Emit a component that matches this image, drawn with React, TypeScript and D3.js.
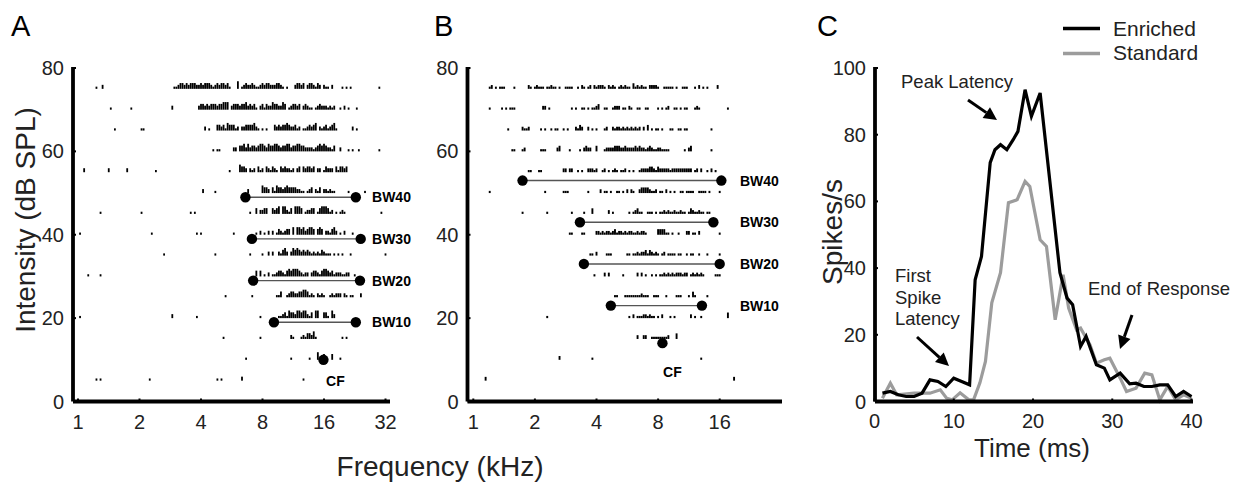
import React from "react";
import * as d3 from "d3";

const FONT = "'Liberation Sans', Arial, Helvetica, sans-serif";
const Z = "0000000000";

// raster rows: intensity (dB SPL), each row = spike counts per 1/30 octave step from 1 kHz (chunks of 10 steps)
const rasterDb = [75, 70, 65, 60, 55, 50, 45, 40, 35, 30, 25, 20, 15, 10, 5];

const spikesA = [
  ["0000000001","0020000000",Z,Z,"0000000112","3323233322","3233321232","3323100040","1232232112","3233222332","1010002332","3023321320","2110200001","0101000000","0000000100"],
  [Z,"0000001000","0000001000",Z,"0000002000","0000000002","3323233323","3444023332","3342323102","3132243322","4301233230","2321101232","2212120010","2010001000"],
  [Z,"0000000010",Z,"0110000000",Z,Z,"0020100033","2314333120","2233334210","1010003232","3343223120","1123234021","2312341000","0000201000"],
  [Z,Z,Z,Z,Z,Z,"0000001011","0000002203","3424233234","4324334432","3344233443","3222212343","4322130020","0010100100","0000000100"],
  ["0002000000","0000020000","0000200000","0000000010",Z,Z,Z,"0000100004","3320212031","2032132103","2322120230","3233230220","1322203133","2300000000"],
  [Z,Z,Z,Z,Z,Z,"0200000100",Z,"0002000000","4332031433","2343333221","1012302130","2212110000","0010000000","1000000000"],
  [Z,"0100000000",Z,"0100000000",Z,"0000010100",Z,Z,"0000100302","2330032340","4421304443","0122330134","4431201012","1000000000","0000000010"],
  ["0100000000",Z,Z,"0000001000",Z,"0000000010","1000000000","0000001000","0000000102","0102020132","1233040443","4234430343","0221342010","2000100000"],
  [Z,Z,Z,Z,"0010000000",Z,"0000000100",Z,"0000100000","1002020021","3420243432","3232121213","2111010101","0001000000",Z,"1"],
  ["0000010000","0100000000",Z,Z,Z,Z,Z,Z,"0000000303","0102011233","2134344432","1220233213","4432312221","1220010000"],
  [Z,Z,Z,Z,Z,Z,Z,"0010000000","0000010000","0000000113","0012332233","4431210212","1001212220","2101100020"],
  ["0100000000",Z,Z,Z,"0000002000","0000000010",Z,Z,"0000000001","0000000011","2314332443","4421304400","3310420000"],
  [Z,Z,Z,Z,Z,Z,Z,"0100000000","0000000001",Z,"0000210001","2133241000","0000000001","0100000000"],
  [Z,Z,Z,Z,Z,Z,Z,Z,"0010000000",Z,"0000100000","0001000400","3000300010"],
  ["0000000001","0100000000",Z,"0000010000",Z,Z,"0000000010","1000000000","2000000000",Z,Z,"1000000000"],
];

const spikesB = [
  ["0000000012","0101110000","1000000210","1211101121","1010011110","0102101202","1222102121","0121211031","2121102222","1001111101","0011100010","2010100002"],
  ["0000000010","0000101011","1000000000","0000220100","0000000010","1001101011","2300110012","2201102100","1100110000","1010120011","0101100012","1000000000","0000100000"],
  [Z,"0000000100","0000211200","0001010010","1100101000","2132002010","1000120021","2212121212","1202030101","1010001100","1101100000","0000001000"],
  [Z,"0000000001","1000120000","0001110000","0230000100","0010232200","3000122223","3322322223","2322123211","2211110000","0001023000","0000001000"],
  [Z,Z,"0000000110","0011000000","0000220220","0101002221","2001201012","1011201010","0122223321","3222221222","2222222012","0200102010"],
  ["0000000010",Z,Z,"0000010000","0000111000","0000001000","0020110100","1101020210","0233332112","0110201010","0110111100","1111010000","1000000000"],
  [Z,Z,"0000100000","0000001000","0000000010","0000100030","0000002010","0000001012","3110011101","0112121121","1211013211","2110110000"],
  [Z,Z,Z,Z,"0000000110","0001100000","2212122123","1221212211","2122100000","3333110100","1000220110","2000000000","1000000000"],
  [Z,Z,Z,Z,Z,"0000000110","2000011100","0000011011","2122313212","1012011110","1100101100","1000100000","1000000000"],
  [Z,Z,Z,Z,Z,"0000000001","0000202000","0001000000","2020100101","0112121212","2212201212","1210000011","1000000000"],
  [Z,Z,Z,Z,Z,Z,"0000000001","1000111111","1121110011","1000100001","1100010310","0000100000"],
  [Z,Z,Z,"0000001000",Z,Z,Z,"0000001020","1112212110","1020001010","0000002010","0100000000","0000300000"],
  [Z,Z,Z,Z,Z,Z,Z,Z,"2002200111","1111120003"],
  [Z,Z,Z,Z,"0020000000","0000000010",Z,Z,Z,Z,Z,"0100000000"],
  ["0000002000",Z,Z,Z,Z,Z,Z,Z,Z,Z,Z,Z,"0000000200"],
];

// bandwidths
const bwLabels = ["BW10", "BW20", "BW30", "BW40"];
const bwA_db = [19, 29, 39, 49];
const bwA_lo = [9.1, 7.2, 7.1, 6.6];
const bwA_hi = [22.9, 24.0, 24.2, 22.9];
const cfA = { f: 15.9, db: 10 };
const bwB_db = [23, 33, 43, 53];
const bwB_lo = [4.7, 3.47, 3.32, 1.74];
const bwB_hi = [13.1, 16.0, 14.9, 16.3];
const cfB = { f: 8.4, db: 14 };

const freqTicksA = [1, 2, 4, 8, 16, 32];
const freqTicksB = [1, 2, 4, 8, 16];
const dbTicks = [0, 20, 40, 60, 80];

// PSTH
const enrichedT = [1,2,3,4,5,6,7,8,9,10,11,12,12.7,13.5,14.6,15.2,15.9,16.7,17.5,18.1,19,19.8,20.9,23.4,24.3,25,26,26.7,28,29,29.7,31,32.2,33,34,35,36,37,38,39,40];
const enrichedV = [2.5,3,2,1.5,1.5,2.5,6.5,6,4.5,7,6,5,36.5,43.5,71.6,75.5,77,75.5,78.5,81,93.5,85.5,92.5,38.6,31,29,16.5,19.5,11,10,6.5,8.5,5.3,5.5,4.5,4.5,5,5,1.5,3,1.5];
const standardT = [1,2,2.8,4.1,5,5.8,7,8.3,9.1,9.8,10.8,11.9,12.5,13.3,14,14.8,15.9,16.9,18,19,19.6,20.9,21.7,22.8,23.8,24.5,25.5,26,27.2,28,29,29.7,31,31.8,33,34.1,35,36,37,38,39,40];
const standardV = [1,5.5,2,2.3,2.5,2.5,2.5,3.5,1,0.5,2.6,0.5,0.5,5.6,12,29.6,38.6,59.6,60.5,66,64.5,48.5,46.5,24.5,38,28,21.5,22,17,11.5,12.5,13,7,3,4,8.5,8,0.5,4.5,0.5,2,1];
const timeTicks = [0, 10, 20, 30, 40];
const rateTicks = [0, 20, 40, 60, 80, 100];

const STEPS_PER_OCT = 30;

function Raster({ rows, x, y, heights, w }: any) {
  const marks: any[] = [];
  rows.forEach((chunks: string[], r: number) => {
    const s = chunks.join("");
    const base = y(rasterDb[r]);
    for (let i = 0; i < s.length; i++) {
      const h = +s[i];
      if (!h) continue;
      const cx = x(Math.pow(2, i / STEPS_PER_OCT));
      marks.push(<rect key={r + "-" + i} x={cx - w / 2} y={base - heights[h]} width={w} height={heights[h]} fill="#000" />);
    }
  });
  return <g>{marks}</g>;
}

function Arrow({ x1, y1, x2, y2 }: any) {
  const a = Math.atan2(y2 - y1, x2 - x1);
  const L = 13, W = 6.5;
  const bx = x2 - L * Math.cos(a), by = y2 - L * Math.sin(a);
  const px = -Math.sin(a), py = Math.cos(a);
  const head = `M${x2},${y2}L${bx + px * W},${by + py * W}L${bx - px * W},${by - py * W}Z`;
  return (
    <g>
      <line x1={x1} y1={y1} x2={bx} y2={by} stroke="#000" strokeWidth={3} />
      <path d={head} fill="#000" />
    </g>
  );
}

function FreqPanel({ letter, lx, axisX, x, y, ticks, axisEnd, spikes, heights, w, bwDb, bwLo, bwHi, cf, labelF, cfDx, cfLabelDb }: any) {
  return (
    <g>
      <text x={lx} y={36} fontSize={29} fontFamily={FONT}>{letter}</text>
      <Raster rows={spikes} x={x} y={y} heights={heights} w={w} />
      {bwDb.map((db: number, k: number) => (
        <g key={k}>
          <line x1={x(bwLo[k])} x2={x(bwHi[k])} y1={y(db)} y2={y(db)} stroke="#555" strokeWidth={1.4} />
          <circle cx={x(bwLo[k])} cy={y(db)} r={5.2} fill="#000" />
          <circle cx={x(bwHi[k])} cy={y(db)} r={5.2} fill="#000" />
          <text x={x(labelF)} y={y(db) + 5} fontSize={14} fontWeight="bold" fontFamily={FONT}>{bwLabels[k]}</text>
        </g>
      ))}
      <circle cx={x(cf.f)} cy={y(cf.db)} r={5.2} fill="#000" />
      <text x={x(cf.f) + cfDx} y={y(cfLabelDb) + 5} textAnchor="middle" fontSize={14} fontWeight="bold" fontFamily={FONT}>CF</text>
      <line x1={axisX} x2={axisX} y1={y(80) - 1} y2={y(0)} stroke="#000" strokeWidth={3.8} />
      <line x1={axisX} x2={axisEnd} y1={y(0)} y2={y(0)} stroke="#000" strokeWidth={3.8} />
      {dbTicks.map((t) => (
        <g key={t}>
          <line x1={axisX} x2={axisX + 3} y1={y(t)} y2={y(t)} stroke="#000" strokeWidth={2} />
          <text x={axisX - 9} y={y(t) + 7} textAnchor="end" fontSize={20} fontFamily={FONT} fill="#222">{t}</text>
        </g>
      ))}
      {ticks.map((t: number) => (
        <g key={t}>
          <line x1={x(t)} x2={x(t)} y1={y(0)} y2={y(0) - 3} stroke="#000" strokeWidth={2} />
          <text x={x(t)} y={429} textAnchor="middle" fontSize={20} fontFamily={FONT} fill="#222">{t}</text>
        </g>
      ))}
    </g>
  );
}

export default function App() {
  const yDb = d3.scaleLinear().domain([0, 80]).range([401.5, 68]);
  const xA = d3.scaleLog().base(2).domain([1, 32]).range([78, 385.5]);
  const xB = d3.scaleLog().base(2).domain([1, 32]).range([473.3, 781.3]);
  const xC = d3.scaleLinear().domain([0, 40]).range([874.5, 1191.5]);
  const yC = d3.scaleLinear().domain([0, 100]).range([401.5, 68]);

  const line = d3.line<[number, number]>().x((d) => xC(d[0])).y((d) => yC(d[1]));
  const enriched = enrichedT.map((t, i) => [t, enrichedV[i]] as [number, number]);
  const standard = standardT.map((t, i) => [t, standardV[i]] as [number, number]);

  return (
    <svg width={1242} height={482} style={{ position: "absolute", left: 0, top: 0, background: "#fff" }}>
      <rect width={1242} height={482} fill="#fff" />
      <FreqPanel letter="A" lx={11} axisX={73} x={xA} y={yDb} ticks={freqTicksA} axisEnd={390}
        spikes={spikesA} heights={[0, 2.2, 4, 5.8, 7.6]} w={1.8}
        bwDb={bwA_db} bwLo={bwA_lo} bwHi={bwA_hi} cf={cfA} labelF={27.5} cfDx={12} cfLabelDb={5} />
      <FreqPanel letter="B" lx={434} axisX={467.5} x={xB} y={yDb} ticks={freqTicksB} axisEnd={782}
        spikes={spikesB} heights={[0, 2.2, 3.8, 5.6, 7]} w={1.9}
        bwDb={bwB_db} bwLo={bwB_lo} bwHi={bwB_hi} cf={cfB} labelF={20.1} cfDx={10} cfLabelDb={7} />

      <text transform="translate(35,220) rotate(-90)" textAnchor="middle" fontSize={28} fontFamily={FONT} fill="#222">Intensity (dB SPL)</text>
      <text x={440} y={476} textAnchor="middle" fontSize={28} fontFamily={FONT} fill="#222">Frequency (kHz)</text>

      {/* panel C */}
      <text x={817} y={36} fontSize={29} fontFamily={FONT}>C</text>
      <path d={line(standard) || ""} fill="none" stroke="#9c9c9c" strokeWidth={3.2} />
      <path d={line(enriched) || ""} fill="none" stroke="#000" strokeWidth={3.2} />
      <line x1={875} x2={875} y1={yC(100) - 1} y2={yC(0)} stroke="#000" strokeWidth={3.8} />
      <line x1={875} x2={1193} y1={yC(0)} y2={yC(0)} stroke="#000" strokeWidth={3.8} />
      {rateTicks.map((t) => (
        <g key={t}>
          <line x1={875} x2={878} y1={yC(t)} y2={yC(t)} stroke="#000" strokeWidth={2} />
          <text x={866} y={yC(t) + 7} textAnchor="end" fontSize={20} fontFamily={FONT} fill="#222">{t}</text>
        </g>
      ))}
      {timeTicks.map((t) => (
        <g key={t}>
          <line x1={xC(t)} x2={xC(t)} y1={yC(0)} y2={yC(0) - 3} stroke="#000" strokeWidth={2} />
          <text x={xC(t)} y={428} textAnchor="middle" fontSize={20} fontFamily={FONT} fill="#222">{t}</text>
        </g>
      ))}
      <text transform="translate(842,232) rotate(-90)" textAnchor="middle" fontSize={28} fontFamily={FONT} fill="#222">Spikes/s</text>
      <text x={1032} y={457} textAnchor="middle" fontSize={26} fontFamily={FONT} fill="#222">Time (ms)</text>

      {/* legend */}
      <line x1={1063} x2={1100} y1={28.5} y2={28.5} stroke="#000" strokeWidth={3.5} />
      <text x={1113} y={36} fontSize={21} fontFamily={FONT} fill="#222">Enriched</text>
      <line x1={1063} x2={1100} y1={53.5} y2={53.5} stroke="#9c9c9c" strokeWidth={3.5} />
      <text x={1113} y={60} fontSize={21} fontFamily={FONT} fill="#222">Standard</text>

      {/* annotations */}
      <text x={901} y={88} fontSize={18.5} fontFamily={FONT} fill="#222">Peak Latency</text>
      <Arrow x1={968} y1={100} x2={997} y2={120} />
      <text fontSize={18.5} fontFamily={FONT} fill="#222">
        <tspan x={895} y={282}>First</tspan>
        <tspan x={895} y={303.5}>Spike</tspan>
        <tspan x={895} y={325}>Latency</tspan>
      </text>
      <Arrow x1={917} y1={337} x2={949} y2={366} />
      <text x={1088} y={295} fontSize={18.5} fontFamily={FONT} fill="#222">End of Response</text>
      <Arrow x1={1132} y1={315} x2={1120} y2={349} />
    </svg>
  );
}
